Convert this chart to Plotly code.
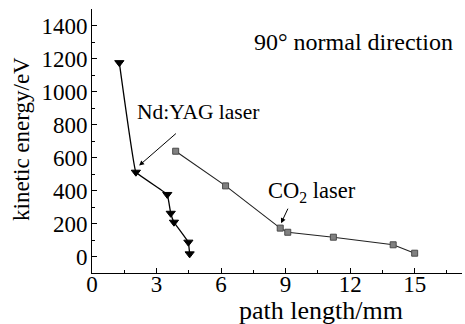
import plotly.graph_objects as go

# Nd:YAG laser series
yag_x = [1.27, 2.04, 3.50, 3.66, 3.81, 4.48, 4.54]
yag_y = [1175, 511, 376, 262, 208, 87, 16]

# CO2 laser series
co2_x = [3.89, 6.21, 8.75, 9.10, 11.22, 14.0, 15.0]
co2_y = [638, 428, 172, 147, 117, 71, 20]

x_ticks = [0, 3, 6, 9, 12, 15]
y_ticks = [0, 200, 400, 600, 800, 1000, 1200, 1400]

FONT = "Times New Roman, Liberation Serif, Times, serif"

fig = go.Figure()
fig.add_trace(go.Scatter(
    x=yag_x, y=yag_y, mode="lines+markers",
    line=dict(color="black", width=1.3, shape="spline", smoothing=0.15),
    marker=dict(symbol="triangle-down", size=8, color="black",
                line=dict(color="black", width=1)),
    showlegend=False))
fig.add_trace(go.Scatter(
    x=co2_x, y=co2_y, mode="lines+markers",
    line=dict(color="#222222", width=1.1),
    marker=dict(symbol="square", size=6, color="#808080",
                line=dict(color="#4a4a4a", width=1)),
    showlegend=False))

axis_common = dict(
    showline=True, linecolor="black", linewidth=1,
    ticks="inside", ticklen=5, tickwidth=1, tickcolor="black",
    showgrid=False, zeroline=False, mirror=False,
    tickfont=dict(family=FONT, size=23, color="black"),
)

fig.update_xaxes(range=[0.0, 17.2], tickvals=x_ticks,
                 minor=dict(ticks="inside", ticklen=3, dtick=1.5, tick0=0,
                            tickcolor="black"),
                 ticklabelstandoff=-10, **axis_common)
fig.update_yaxes(range=[-100, 1500], tickvals=y_ticks,
                 minor=dict(ticks="inside", ticklen=3, dtick=100, tick0=0,
                            tickcolor="black"),
                 ticklabelstandoff=-1, **axis_common)

annots = [
    # axis titles
    dict(text="path length/mm", xref="paper", yref="paper",
         x=(321 - 92) / 370, y=(273 - 310) / 264, showarrow=False,
         xanchor="center", yanchor="middle",
         font=dict(family=FONT, size=26, color="black")),
    dict(text="kinetic energy/eV", xref="paper", yref="paper",
         x=(21 - 92) / 370, y=(273 - 139) / 264, showarrow=False,
         textangle=-90, xanchor="center", yanchor="middle",
         font=dict(family=FONT, size=23, color="black")),
    # labels
    dict(text="90° normal direction", x=12.16, y=1297, showarrow=False,
         xanchor="center", yanchor="middle",
         font=dict(family=FONT, size=24, color="black")),
    dict(text="Nd:YAG laser", x=4.94, y=873, showarrow=False,
         xanchor="center", yanchor="middle",
         font=dict(family=FONT, size=21.5, color="black")),
    dict(text="CO<sub>2</sub> laser", x=10.22, y=388, showarrow=False,
         xanchor="center", yanchor="middle",
         font=dict(family=FONT, size=22.5, color="black")),
    # arrows
    dict(text="", x=2.19, y=551, ax=3.97, ay=753, axref="x", ayref="y",
         showarrow=True, arrowhead=2, arrowsize=1, arrowwidth=1,
         arrowcolor="black", standoff=0),
    dict(text="", x=8.79, y=202, ax=9.14, ay=299, axref="x", ayref="y",
         showarrow=True, arrowhead=2, arrowsize=1, arrowwidth=1,
         arrowcolor="black", standoff=0),
]

fig.update_layout(
    width=465, height=324,
    margin=dict(l=92, r=3, t=9, b=51),
    paper_bgcolor="white", plot_bgcolor="white",
    font=dict(family=FONT, color="black"),
    annotations=annots,
)

fig.write_html("out.html")
